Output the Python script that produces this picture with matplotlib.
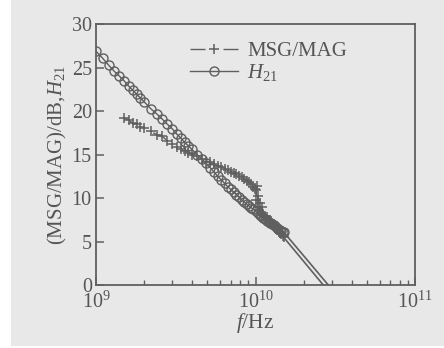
import matplotlib
matplotlib.use("Agg")
import matplotlib.pyplot as plt
from matplotlib.patches import Rectangle
from matplotlib.ticker import LogLocator, FixedLocator

plt.rcParams['font.family'] = ['Liberation Serif', 'DejaVu Serif']
plt.rcParams['mathtext.fontset'] = 'custom'
plt.rcParams['mathtext.rm'] = 'Liberation Serif'
plt.rcParams['mathtext.it'] = 'Liberation Serif:italic'

# ---- data (frequency in GHz, gain in dB) ----
h21_f = [1.0, 1.1, 1.2, 1.3, 1.4, 1.5, 1.6, 1.7, 1.8, 1.9, 2.0, 2.2, 2.4, 2.6, 2.8,
         3.0, 3.2, 3.4, 3.6, 3.8, 4.0, 4.3, 4.6, 4.9, 5.2, 5.5, 5.8, 6.1, 6.4, 6.7,
         7.0, 7.3, 7.6, 7.9, 8.2, 8.5, 8.8, 9.1, 9.4, 9.7, 10.0, 10.3, 10.6, 10.9,
         11.2, 11.5, 11.8, 12.1, 12.4, 12.7, 13.0, 13.3, 13.6, 13.9, 14.2, 14.5, 14.8, 15.0]
h21_db = [26.9, 26.1, 25.3, 24.6, 24.05, 23.5, 22.9, 22.4, 21.95, 21.5, 21.1, 20.3, 19.7,
          19.1, 18.5, 18.0, 17.4, 16.9, 16.4, 16.0, 15.6, 15.0, 14.5, 14.0, 13.5, 13.0,
          12.5, 12.1, 11.7, 11.3, 11.0, 10.7, 10.4, 10.1, 9.8, 9.55, 9.3, 9.1, 8.9, 8.7,
          8.5, 8.3, 8.1, 7.9, 7.7, 7.55, 7.4, 7.3, 7.15, 7.0, 6.9, 6.75, 6.6, 6.45, 6.3,
          6.2, 6.1, 6.1]

msg_f = [1.5, 1.6, 1.7, 1.8, 1.9, 2.0, 2.2, 2.4, 2.6, 2.8, 3.0, 3.2, 3.4, 3.6, 3.8,
         4.0, 4.3, 4.6, 4.9, 5.2, 5.5, 5.8, 6.1, 6.4, 6.7, 7.0, 7.3, 7.6, 7.9, 8.2,
         8.5, 8.8, 9.1, 9.4, 9.7, 9.9, 10.0, 10.1, 10.2, 10.3, 10.4, 10.5, 10.6, 10.8,
         11.0, 11.2, 11.5, 11.8, 12.1, 12.4, 12.7, 13.0, 13.3, 13.6, 13.9, 14.2, 14.5,
         14.8, 15.0]
msg_db = [19.2, 19.0, 18.6, 18.5, 18.2, 18.1, 17.7, 17.3, 17.1, 16.6, 16.2, 15.9, 15.6,
          15.4, 15.2, 15.0, 14.8, 14.5, 14.2, 14.1, 13.9, 13.7, 13.6, 13.4, 13.2, 13.0,
          12.9, 12.8, 12.5, 12.4, 12.2, 12.0, 11.8, 11.6, 11.3, 11.1, 10.9, 9.8, 11.4,
          9.0, 10.2, 8.6, 9.4, 8.3, 9.0, 8.1, 7.9, 7.8, 7.3, 7.5, 7.0, 6.8, 6.9, 6.4,
          6.3, 6.0, 5.9, 5.6, 5.5]

# extrapolated -20 dB/dec lines down to 0 dB
h21_ext_f = [15.0, 28.6]
h21_ext_db = [6.1, 0.0]
msg_ext_f = [15.0, 26.6]
msg_ext_db = [5.5, 0.0]

labels = ['MSG/MAG', '$H_{21}$']

# ---- figure ----
W, H = 444, 348
fig = plt.figure(figsize=(W / 100, H / 100), dpi=100, facecolor='white')
fig.patches.append(Rectangle((11 / W, 2.5 / H), 1, 1, transform=fig.transFigure,
                             facecolor='#e8e8e8', edgecolor='none', zorder=-10))

ax = fig.add_axes([96 / W, 1 - 285 / H, 319 / W, (285 - 24.3) / H])
ax.set_facecolor('#e8e8e8')

dc = '#5f5f5f'
tc = '#555555'

ax.set_xscale('log')
msg_hz = [v * 1e9 for v in msg_f]
h21_hz = [v * 1e9 for v in h21_f]

ax.plot(msg_hz, msg_db, color=dc, lw=1.0, linestyle=(0, (10.8, 13)), marker='+',
        markersize=7, markeredgewidth=1.1, label=labels[0], zorder=3)
ax.plot(h21_hz, h21_db, color=dc, lw=1.0, marker='o', markersize=6.5,
        markerfacecolor='none', markeredgewidth=1.0, label=labels[1], zorder=4)
ax.plot([v * 1e9 for v in msg_ext_f], msg_ext_db, color=dc, lw=1.2, zorder=2)
ax.plot([v * 1e9 for v in h21_ext_f], h21_ext_db, color=dc, lw=1.2, zorder=2)

ax.set_xlim(1e9, 1e11)
ax.set_ylim(0, 30)
ax.set_yticks([0, 5, 10, 15, 20, 25, 30])
ax.xaxis.set_major_locator(FixedLocator([1e9, 1e10, 1e11]))
ax.xaxis.set_minor_locator(LogLocator(base=10, subs=range(2, 10), numticks=20))

for s in ax.spines.values():
    s.set_color(dc)
    s.set_linewidth(1.3)

ax.tick_params(axis='both', which='both', direction='in', colors=dc,
               labelcolor=tc, labelsize=14.5, top=False, right=False)
ax.tick_params(axis='y', which='major', length=6, width=1.1, pad=3)
ax.tick_params(axis='x', which='major', length=6, width=1.1, pad=4.5)
ax.tick_params(axis='x', which='minor', length=3.5, width=1.0)

ax.set_xlabel('$f$/Hz', fontsize=15.5, color=tc, labelpad=-1)
ax.set_ylabel('(MSG/MAG)/dB,$H_{21}$', fontsize=15, color=tc, labelpad=2)

leg = ax.legend(loc='upper left', bbox_to_anchor=(0.295, 0.935), frameon=False,
                fontsize=15, handlelength=2.3, handletextpad=0.45,
                labelspacing=0.05, borderpad=0, borderaxespad=0)
for t in leg.get_texts():
    t.set_color(tc)

fig.savefig('out.png', dpi=100, facecolor=fig.get_facecolor())
